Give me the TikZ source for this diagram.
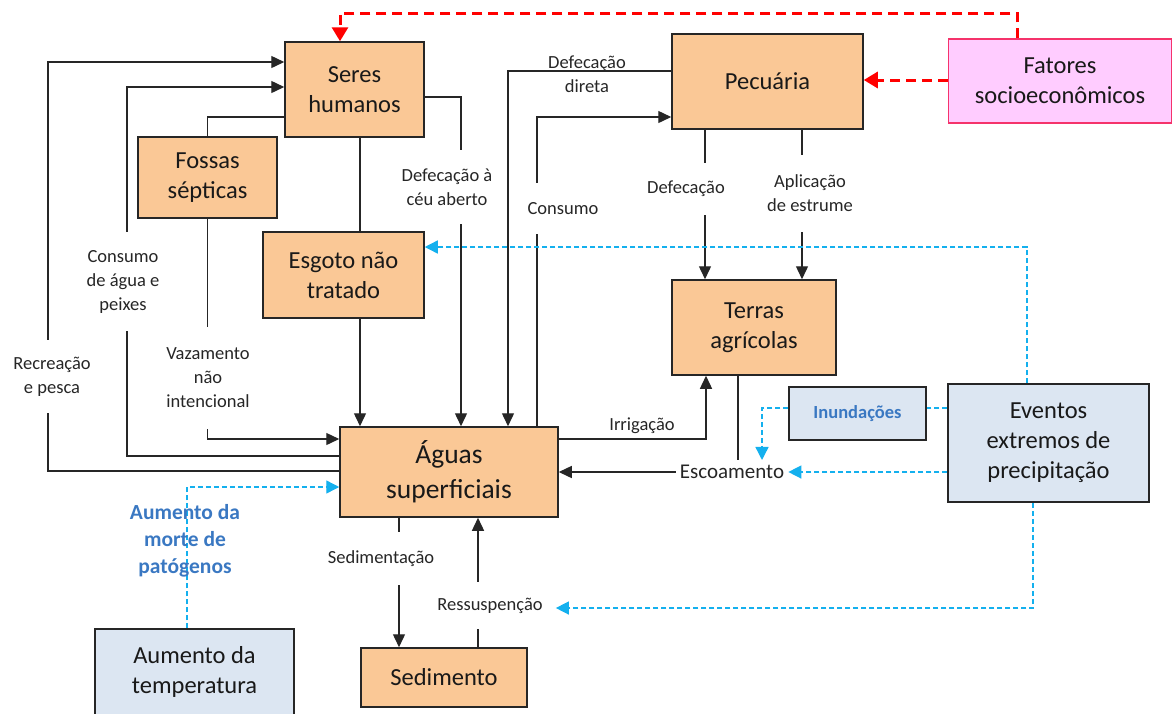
\documentclass[tikz,border=0pt]{standalone}
\usepackage{fontspec}
\setmainfont{Carlito}
\usetikzlibrary{arrows.meta,backgrounds}
\definecolor{orfill}{HTML}{FAC896}
\definecolor{bluefill}{HTML}{DCE6F2}
\definecolor{pinkfill}{HTML}{FFCCFF}
\definecolor{pinkdraw}{HTML}{F5336B}
\definecolor{dashblue}{HTML}{14B0EE}
\definecolor{textblue}{HTML}{3A78C2}
\newcommand{\bfnt}{\fontsize{24.5}{30}\selectfont}
\newcommand{\afnt}{\fontsize{27.5}{35}\selectfont}
\newcommand{\lfnt}{\fontsize{18.5}{24}\selectfont}
\newcommand{\efnt}{\fontsize{21}{25}\selectfont}
\newcommand{\ifnt}{\fontsize{18.5}{22}\selectfont\bfseries}
\newcommand{\mfnt}{\fontsize{21.5}{27}\selectfont\bfseries}
\begin{document}
\begin{tikzpicture}[x=1pt,y=-1pt,
  box/.style={draw=black!85, line width=1.5pt, fill=orfill, align=center, inner sep=0pt, font=\bfnt, text=black!90},
  bbox/.style={box, fill=bluefill},
  lab/.style={align=center, font=\lfnt, inner sep=0pt, text=black!85},
  gap/.style={lab, fill=white},
  conn/.style={line width=1.4pt, draw=black!85},
  arr/.style={conn, -{Triangle[length=13pt,width=12pt]}},
  bdash/.style={draw=dashblue, line width=1.4pt, dash pattern=on 5pt off 3pt, -{Triangle[length=13pt,width=13pt]}},
  rdash/.style={draw=red, line width=3pt, dash pattern=on 10pt off 6pt, -{Triangle[length=14pt,width=16pt]}}]
\useasboundingbox (0,0) rectangle (1173,713);

% boxes
\node[box, minimum width=139pt, minimum height=95pt] (seres) at (354.5,89.5) {Seres\\humanos};
\node[box, minimum width=139pt, minimum height=81pt] (fossas) at (207.5,177.5) {Fossas\\sépticas};
\node[box, minimum width=161pt, minimum height=86pt] (esgoto) at (343.5,275) {Esgoto não\\tratado};
\node[box, minimum width=191pt, minimum height=95pt] (pecuaria) at (767.5,81.5) {Pecuária};
\node[box, fill=pinkfill, draw=pinkdraw, minimum width=223pt, minimum height=84pt] (fatores) at (1060,81) {Fatores\\socioeconômicos};
\node[box, minimum width=164pt, minimum height=95pt] (terras) at (754,327.5) {Terras\\agrícolas};
\node[bbox, minimum width=137pt, minimum height=53pt, font=\ifnt, text=textblue] (inund) at (857.5,413.5) {Inundações};
\node[bbox, minimum width=201pt, minimum height=118pt] (eventos) at (1048.5,443) {Eventos\\extremos de\\precipitação};
\node[box, font=\afnt, minimum width=218pt, minimum height=90pt] (aguas) at (449,472) {Águas\\superficiais};
\node[box, minimum width=166pt, minimum height=59pt] (sedimento) at (444,677.5) {Sedimento};
\node[bbox, minimum width=199pt, minimum height=86pt] (temp) at (194.5,672) {Aumento da\\temperatura};

% labels
\node[lab, font=\efnt, inner xsep=4pt, inner ysep=5pt] (esco) at (732,472) {Escoamento};
\node[gap, minimum height=73pt] (recre) at (52,376.5) {Recreação\\e pesca};
\node[gap, minimum height=99pt] (cagua) at (123,281.5) {Consumo\\de água e\\peixes};
\node[gap, minimum height=102pt] (vaz) at (208,378) {Vazamento\\não\\intencional};
\node[gap, minimum height=74pt] (dceu) at (447,187) {Defecação à\\céu aberto};
\node[lab] (ddir) at (587,74) {Defecação\\direta};
\node[gap, minimum height=51pt] (cons) at (563,208.5) {Consumo};
\node[gap, minimum height=52pt] (defec) at (686,189) {Defecação};
\node[gap, minimum height=77pt] (aplic) at (810,193.5) {Aplicação\\de estrume};
\node[lab] (irrig) at (642,426) {Irrigação};
\node[gap, minimum height=53pt] (sedm) at (381,558.5) {Sedimentação};
\node[gap, minimum height=47pt] (resus) at (490,605.5) {Ressuspenção};
\node[lab, font=\mfnt, text=textblue] (morte) at (185,541) {Aumento da\\morte de\\patógenos};

\begin{pgfonlayer}{background}
% black connectors
\draw[arr] (aguas.west |- 0,471) -- (48,471) -- (48,62) -- (seres.west |- 0,62);
\draw[arr] (aguas.west |- 0,456) -- (127,456) -- (127,87) -- (seres.west |- 0,87);
\draw[conn] (seres.west |- 0,117) -| (fossas.north);
\draw[arr] (fossas.south) |- (aguas.west |- 0,439);
\draw[conn] (seres.south -| 360,0) -- (esgoto.north -| 360,0);
\draw[arr] (esgoto.south -| 360,0) -- (aguas.north -| 360,0);
\draw[arr] (seres.east |- 0,97) -| (aguas.north -| 461,0);
\draw[arr] (pecuaria.west |- 0,71) -| (aguas.north -| 508,0);
\draw[arr] (aguas.north -| 537,0) |- (pecuaria.west |- 0,117);
\draw[arr] (pecuaria.south -| 705,0) -- (terras.north -| 705,0);
\draw[arr] (pecuaria.south -| 802,0) -- (terras.north -| 802,0);
\draw[arr] (aguas.east |- 0,439) -| (terras.south -| 706,0);
\draw[conn] (terras.south -| 738,0) -- (esco.north -| 738,0);
\draw[arr] (esco.west) -- (aguas.east |- esco.west);
\draw[arr] (aguas.south -| 399,0) -- (sedimento.north -| 399,0);
\draw[arr] (sedimento.north -| 478,0) -- (aguas.south -| 478,0);
% blue dashed
\draw[bdash] (eventos.north -| 1027,0) |- (esgoto.east |- 0,247);
\draw[bdash, -] (eventos.west |- 0,408) -- (inund.east |- 0,408);
\draw[bdash] (inund.west |- 0,408) -| (esco.north -| 762,0);
\draw[bdash] (eventos.west |- esco.east) -- (esco.east);
\draw[bdash, shorten >=13pt] (eventos.south -| 1033,0) |- (resus.east |- 0,608);
\draw[bdash] (temp.north -| 187,0) |- (aguas.west |- 0,487);
% red dashed
\draw[rdash] (fatores.north -| 1017,0) -- (1017,13) -| (seres.north -| 340,0);
\draw[rdash] (fatores.west |- 0,80) -- (pecuaria.east |- 0,80);
\end{pgfonlayer}
\end{tikzpicture}
\end{document}
